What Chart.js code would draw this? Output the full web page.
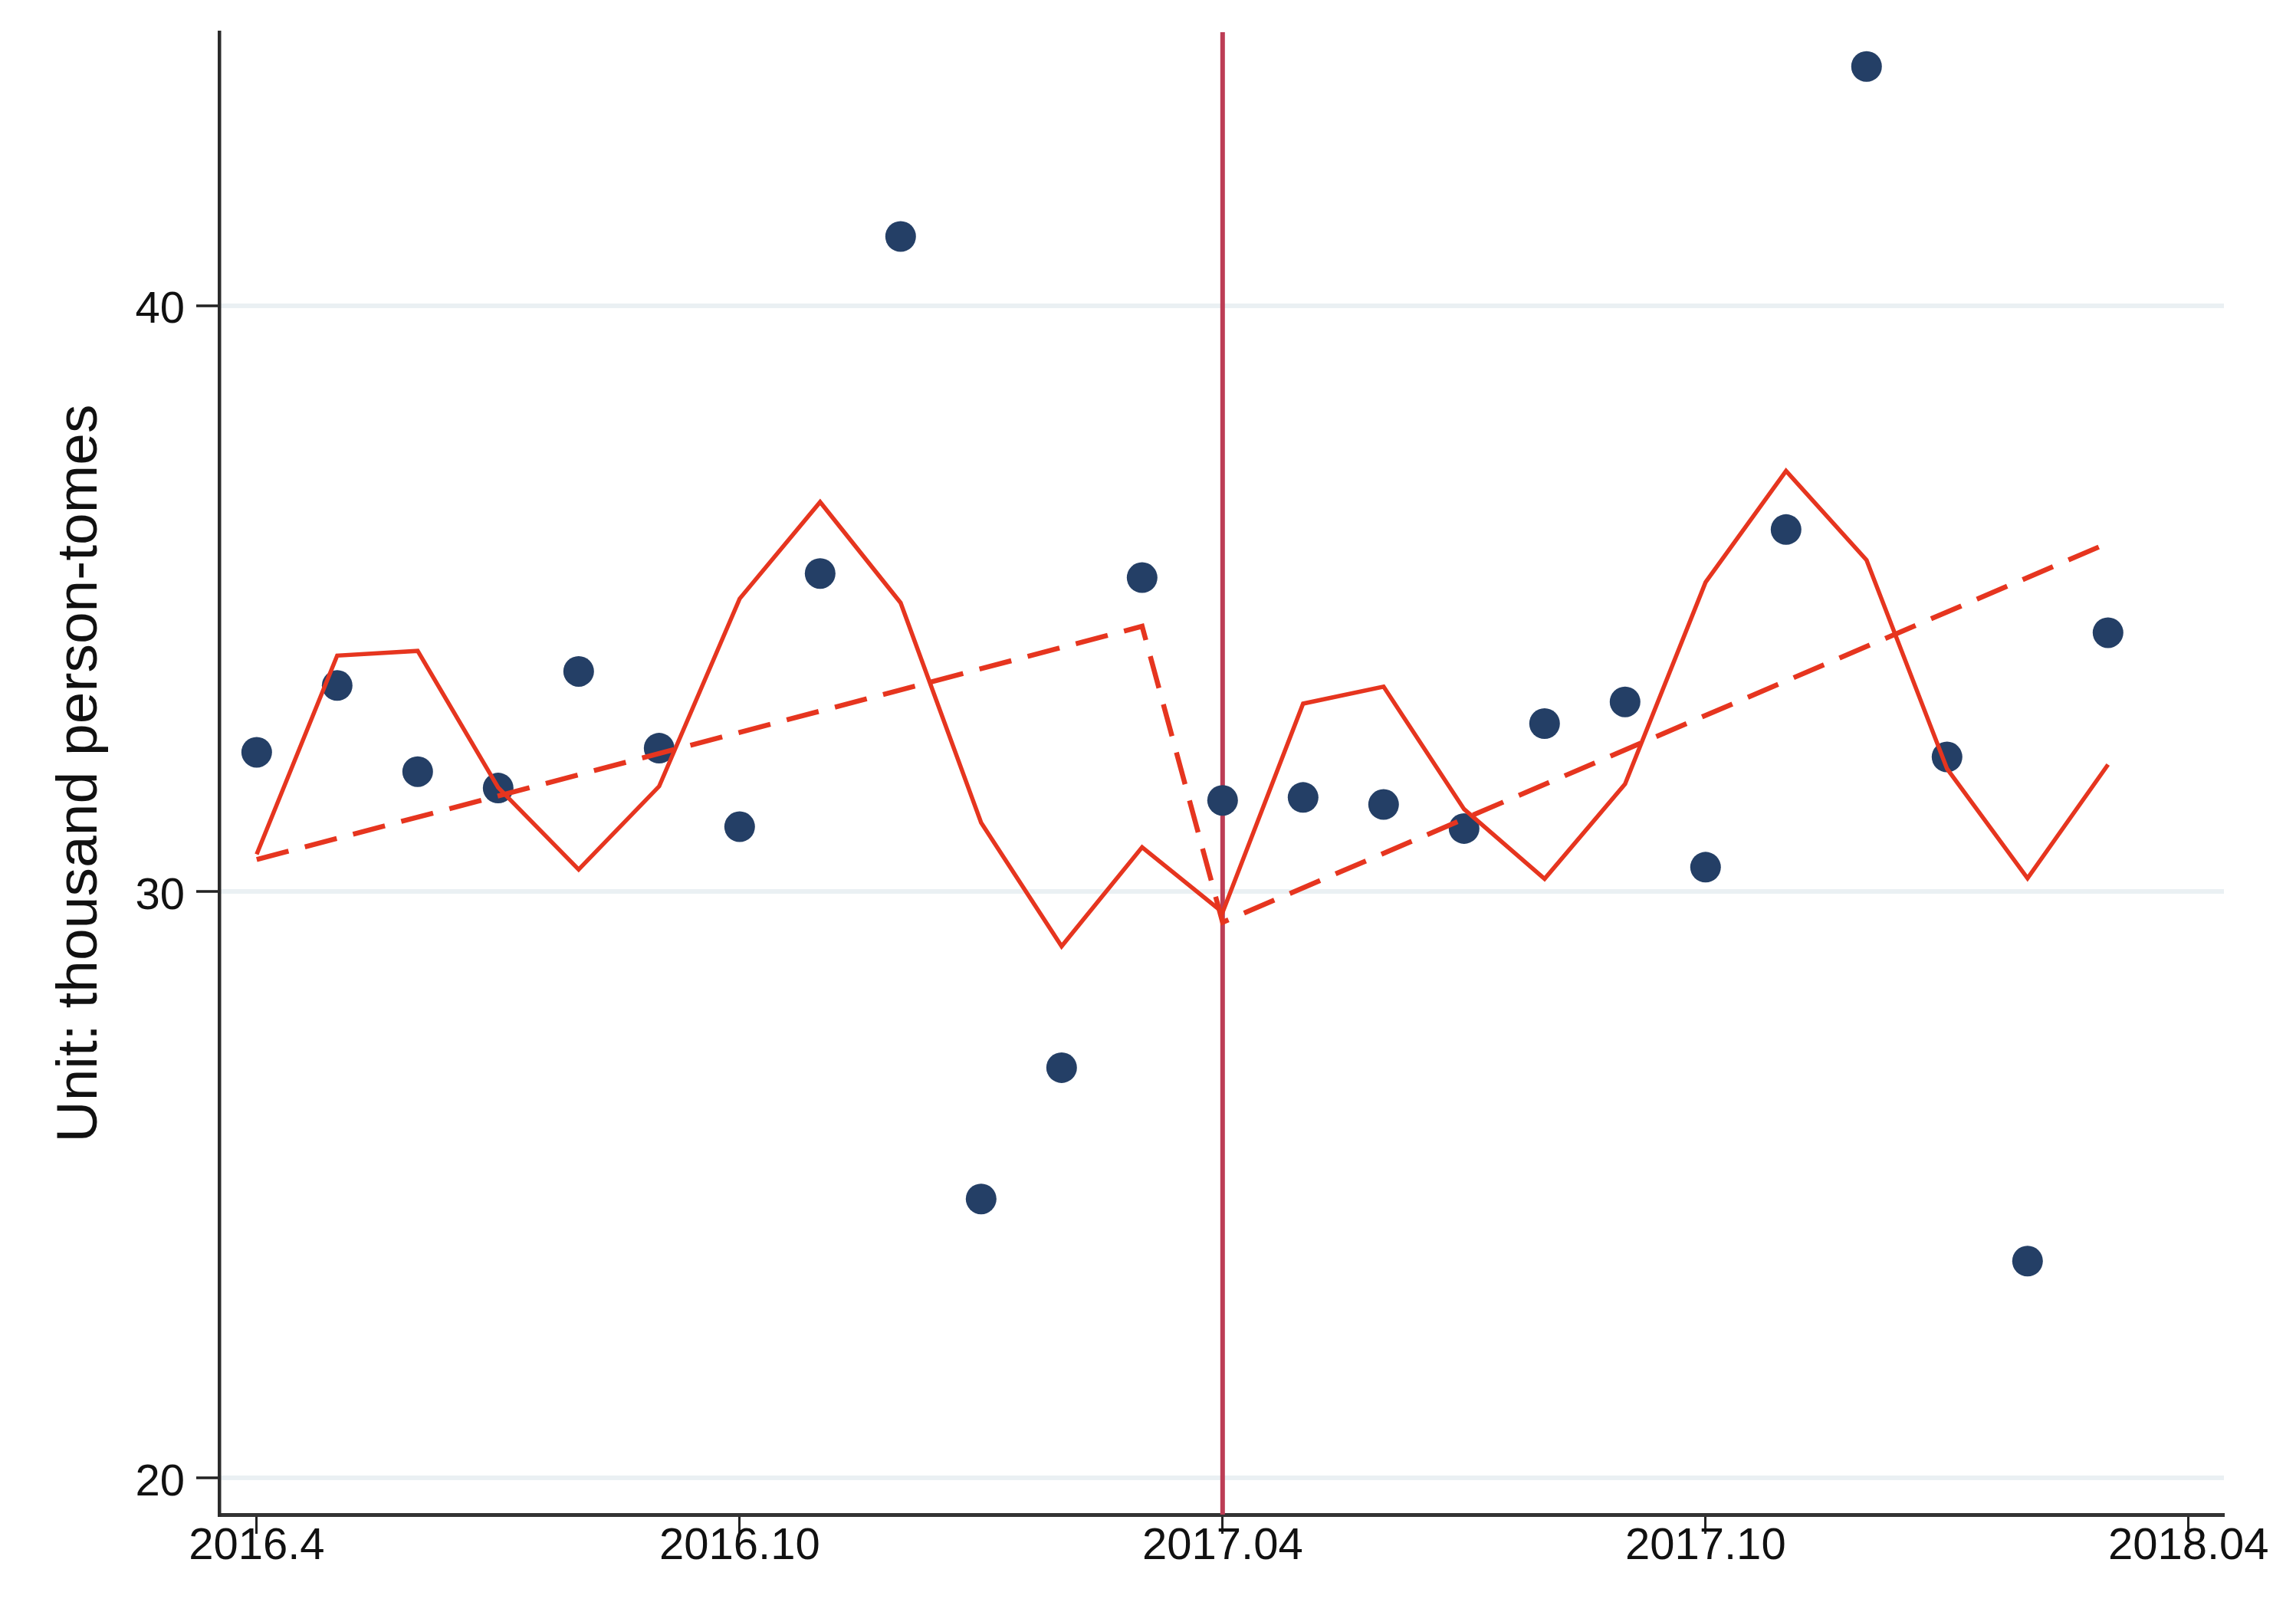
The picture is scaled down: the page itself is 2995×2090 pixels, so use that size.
<!DOCTYPE html>
<html>
<head>
<meta charset="utf-8">
<script src="https://cdn.jsdelivr.net/npm/chart.js@4.4.1/dist/chart.umd.min.js"></script>
<style>
    html, body { margin: 0; padding: 0; background: #ffffff; }
    canvas { display: block; }
</style>
</head>
<body>
<canvas id="itsChart" width="2995" height="2090"></canvas>
<script>
// Months on the x axis, April 2016 to March 2018 (index 0..23)
const months = [
    '2016.04', '2016.05', '2016.06', '2016.07', '2016.08', '2016.09',
    '2016.10', '2016.11', '2016.12', '2017.01', '2017.02', '2017.03',
    '2017.04', '2017.05', '2017.06', '2017.07', '2017.08', '2017.09',
    '2017.10', '2017.11', '2017.12', '2018.01', '2018.02', '2018.03'
];

// Observed monthly values (dots)
const observed = [
    32.38, 33.52, 32.05, 31.77, 33.76, 32.45,
    31.11, 35.43, 41.18, 24.76, 27.00, 35.36,
    31.56, 31.61, 31.49, 31.08, 32.87, 33.24,
    30.42, 36.18, 44.08, 32.30, 23.70, 34.42
];

// Fitted values with seasonality (solid red line)
const fitted = [
    30.64, 34.03, 34.11, 31.78, 30.38, 31.80,
    35.00, 36.65, 34.93, 31.18, 29.07, 30.76,
    29.65, 33.21, 33.50, 31.41, 30.22, 31.84,
    35.28, 37.18, 35.66, 32.10, 30.23, 32.17
];

// Linear trend before / after the break (dashed line), vertices only
const trendMonths = [0, 11, 12, 23];
const trendValues = [30.55, 34.53, 29.48, 35.95];

// Break month (2017.04) and axis ticks
const breakMonth = 12;
const xTickValues = [0, 6, 12, 18, 24];
const xTickLabels = ['2016.4', '2016.10', '2017.04', '2017.10', '2018.04'];
const yTickValues = [20, 30, 40];

const xMin = -0.465, xMax = 24.44;
const yMin = 19.375, yMax = 44.665;

const RED = '#e6351f';
const NAVY = '#243f66';
const FONT = "'Liberation Sans', Arial, Helvetica, sans-serif";

const ctx = document.getElementById('itsChart').getContext('2d');

const data = {
    datasets: [
        {
            label: 'break',
            data: [{x: breakMonth, y: yMin}, {x: breakMonth, y: yMax}],
            showLine: true,
            borderColor: '#bd3d55',
            borderWidth: 6,
            pointRadius: 0,
            order: 4
        },
        {
            label: 'observed',
            data: observed.map((v, i) => ({x: i, y: v})),
            showLine: false,
            pointRadius: 20,
            pointBackgroundColor: NAVY,
            pointBorderWidth: 0,
            order: 3
        },
        {
            label: 'fitted',
            data: fitted.map((v, i) => ({x: i, y: v})),
            showLine: true,
            borderColor: RED,
            borderWidth: 5.5,
            pointRadius: 0,
            tension: 0,
            order: 2
        },
        {
            label: 'trend',
            data: trendMonths.map((m, i) => ({x: m, y: trendValues[i]})),
            showLine: true,
            borderColor: RED,
            borderWidth: 6.5,
            borderDash: [43, 22],
            pointRadius: 0,
            tension: 0,
            order: 1
        }
    ]
};

const options = {
    responsive: false,
    animation: false,
    devicePixelRatio: 1,
    layout: {
        padding: {left: 0, top: 42, right: 94, bottom: 0}
    },
    plugins: {
        legend: {display: false},
        tooltip: {enabled: false}
    },
    scales: {
        x: {
            type: 'linear',
            min: xMin,
            max: xMax,
            afterBuildTicks: (scale) => {
                scale.ticks = xTickValues.map(v => ({value: v}));
            },
            afterFit: (scale) => {
                scale.height = 114;
                scale.paddingLeft = 0;
                scale.paddingRight = 0;
            },
            grid: {
                drawOnChartArea: false,
                drawTicks: true,
                tickLength: 25,
                tickWidth: 3,
                tickColor: '#222222'
            },
            border: {display: true, color: '#333333', width: 5},
            ticks: {
                autoSkip: false,
                maxRotation: 0,
                padding: -18,
                color: '#111111',
                font: {size: 58, family: FONT},
                callback: (value, index) => xTickLabels[index]
            }
        },
        y: {
            type: 'linear',
            min: yMin,
            max: yMax,
            afterBuildTicks: (scale) => {
                scale.ticks = yTickValues.map(v => ({value: v}));
            },
            afterFit: (scale) => {
                scale.width = 286;
                scale.paddingTop = 0;
                scale.paddingBottom = 0;
            },
            grid: {
                color: '#eaf0f3',
                lineWidth: 6,
                drawTicks: true,
                tickLength: 30,
                tickWidth: 3.5,
                tickColor: '#222222'
            },
            border: {display: true, color: '#2b2b2b', width: 4.5},
            ticks: {
                padding: 15,
                labelOffset: 6.5,
                color: '#111111',
                font: {size: 58, family: FONT}
            },
            title: {
                display: true,
                text: 'Unit: thousand person-tomes',
                color: '#111111',
                font: {size: 75, family: FONT},
                padding: {top: 60, bottom: 0}
            }
        }
    }
};

new Chart(ctx, {
    type: 'scatter',
    data: data,
    options: options
});
</script>
</body>
</html>
